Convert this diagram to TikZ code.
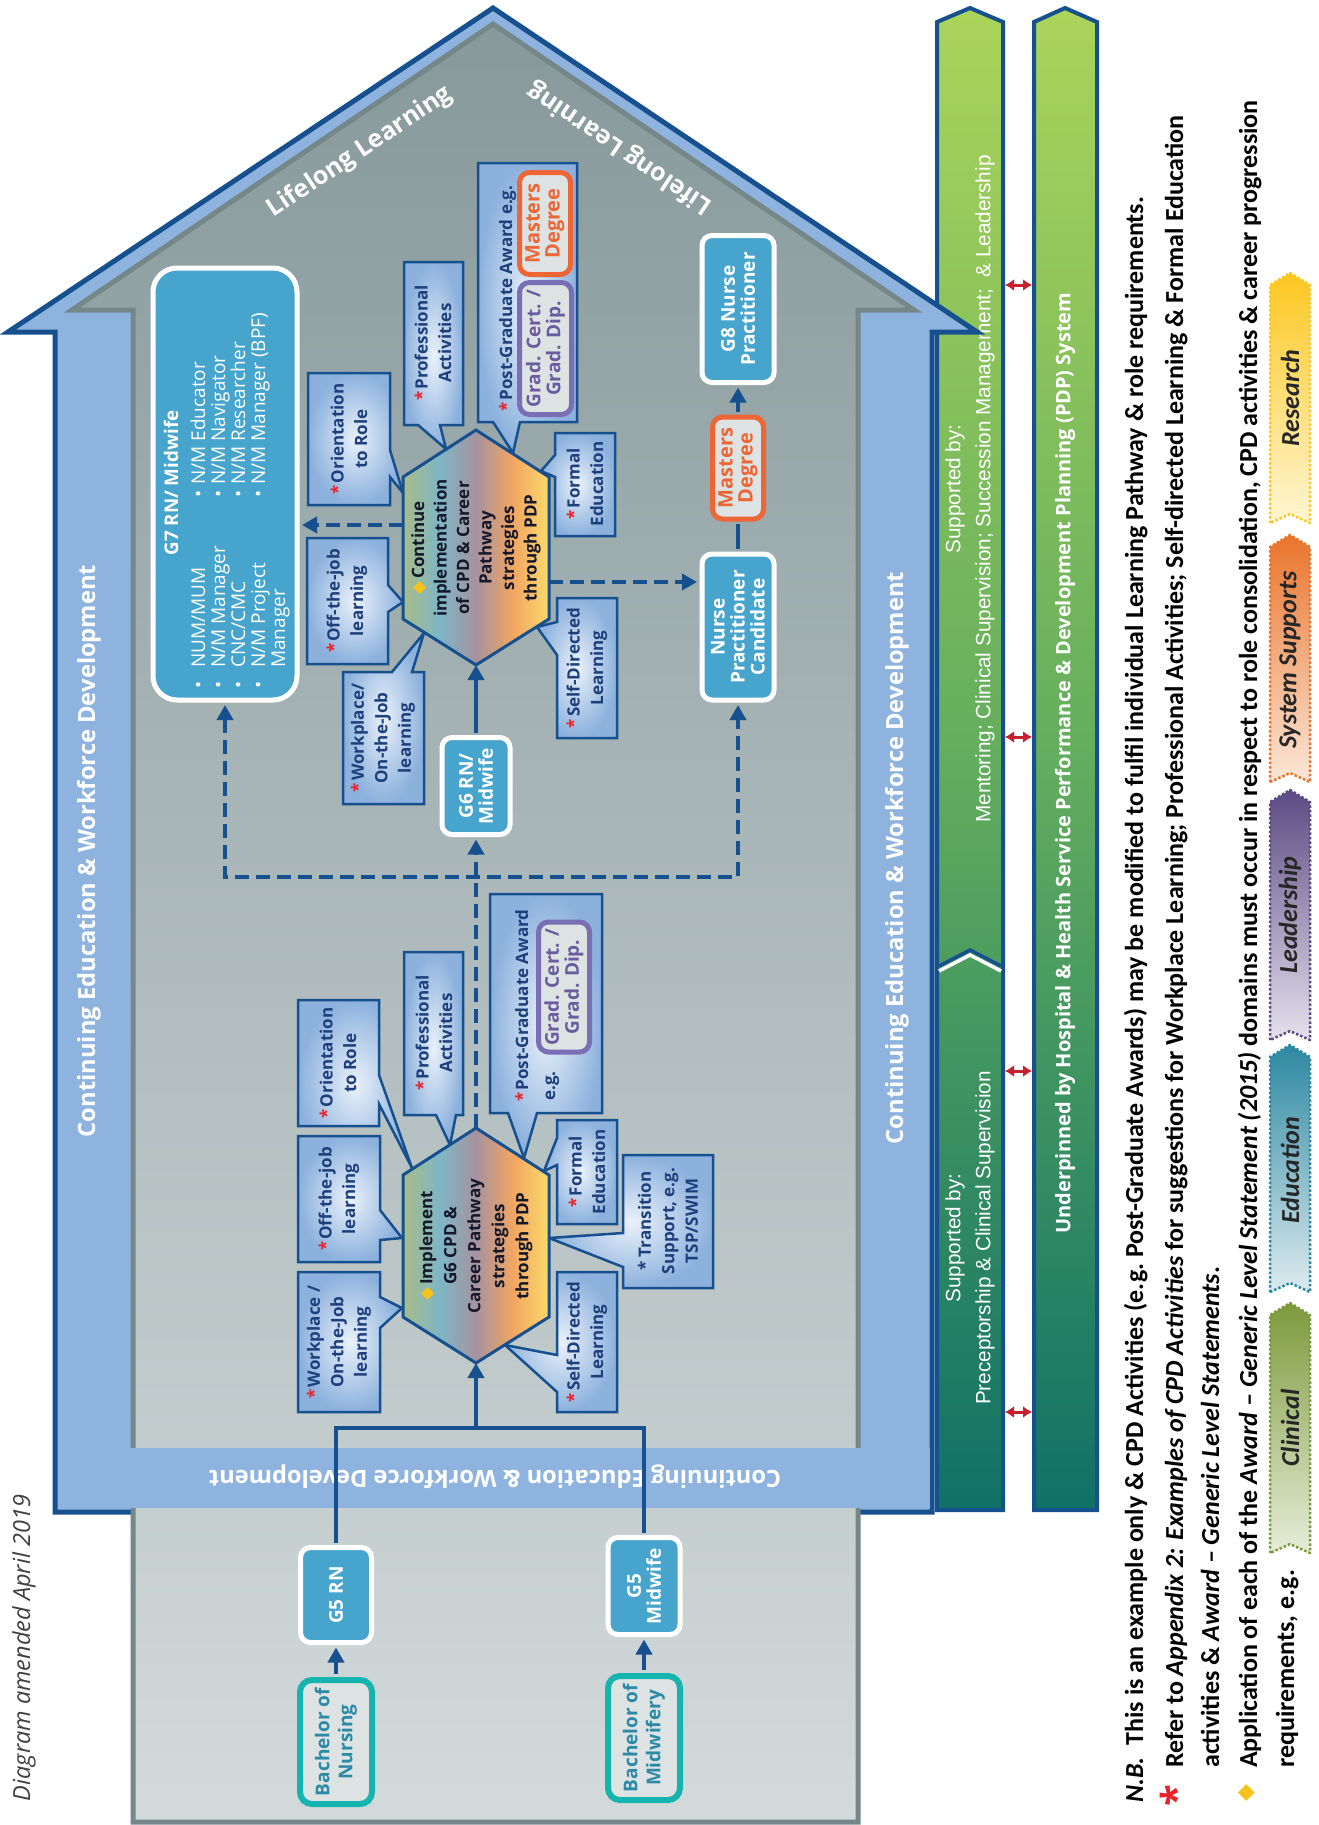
\documentclass[tikz,border=0pt]{standalone}
\usepackage{fontspec}
\setmainfont{Open Sans}
\newfontfamily\arialf{Liberation Sans}
\newfontfamily\notef{Carlito}
\newfontfamily\symf{DejaVu Sans}
\usetikzlibrary{arrows.meta}

\definecolor{dblue}{HTML}{17508F}
\definecolor{hblue}{HTML}{8EB3DE}
\definecolor{nblue}{HTML}{47A5CD}
\definecolor{slate}{HTML}{768789}
\definecolor{gtop}{HTML}{87999B}
\definecolor{gbot}{HTML}{D3DADB}
\definecolor{cin}{HTML}{EAF1FA}
\definecolor{cout}{HTML}{8CB1DD}
\definecolor{ctext}{HTML}{1D3F7C}
\definecolor{cstar}{HTML}{E8232B}
\definecolor{cdiam}{HTML}{F8C318}
\definecolor{bteal}{HTML}{16B4AE}
\definecolor{tteal}{HTML}{2B8BA7}
\definecolor{bpurp}{HTML}{7A6FB4}
\definecolor{tpurp}{HTML}{6B5BA0}
\definecolor{borng}{HTML}{EE6536}
\definecolor{lgrey}{HTML}{DDE2E2}
\definecolor{hextxt}{HTML}{15172A}
\definecolor{grtop}{HTML}{ABD45A}
\definecolor{grmid}{HTML}{63AD5E}
\definecolor{grbot}{HTML}{0F7166}
\definecolor{rarrow}{HTML}{C81F2E}
\definecolor{hxa}{HTML}{A8BC88}
\definecolor{hxb}{HTML}{7EB6C6}
\definecolor{hxc}{HTML}{A6929F}
\definecolor{hxd}{HTML}{F2A562}
\definecolor{hxe}{HTML}{FCDA6A}
\definecolor{clinD}{HTML}{7C9A3C}\definecolor{clinL}{HTML}{E6EDD8}
\definecolor{educD}{HTML}{2D88A1}\definecolor{educL}{HTML}{DDEBEF}
\definecolor{leadD}{HTML}{5C4B83}\definecolor{leadL}{HTML}{E5E1ED}
\definecolor{sysD}{HTML}{E9742B}\definecolor{sysL}{HTML}{FCE7D8}
\definecolor{resD}{HTML}{FCC720}\definecolor{resL}{HTML}{FEF6D3}

\pgfdeclarehorizontalshading{hexshade}{100bp}{color(0bp)=(hxa); color(25bp)=(hxa); color(37.5bp)=(hxb); color(50bp)=(hxc); color(62.5bp)=(hxd); color(75bp)=(hxe); color(100bp)=(hxe)}

\newcommand\setfs[2]{\fontsize{#1}{#2}\selectfont}
\newcommand\redstar{\textcolor{cstar}{*}\hspace{2pt}}
\newcommand\ydiam{{\symf\textcolor{cdiam}{\char"25C6}}\hspace{3pt}}

\tikzset{
  garrow/.style={draw=dblue, line width=4pt, line join=miter, top color=grtop, bottom color=grbot, middle color=grmid},
  houseframe/.style={fill=hblue, draw=dblue, line width=5pt, line join=miter},
  houseinner/.style={draw=slate, line width=5pt, line join=miter, top color=gtop, bottom color=gbot},
  walltext/.style={text=white, inner sep=0pt, font=\bfseries\setfs{23.7}{28}},
  bluebox/.style={rotate=90, draw=white, line width=5pt, fill=nblue, rounded corners=10pt, text=white, align=center, inner sep=0pt, font=\bfseries\setfs{19}{20}},
  bachbox/.style={rotate=90, draw=bteal, line width=6pt, fill=lgrey, rounded corners=12pt, text=tteal, align=center, inner sep=0pt, font=\bfseries\setfs{19}{23}},
  orgbox/.style={rotate=90, draw=borng, line width=5pt, fill=lgrey, rounded corners=10pt, text=borng, align=center, inner sep=0pt, font=\bfseries\setfs{20}{20}},
  purpbox/.style={rotate=90, draw=bpurp, line width=5pt, fill=lgrey, rounded corners=10pt, text=tpurp, align=center, inner sep=0pt, font=\bfseries\setfs{19}{20}},
  callbox/.style={draw=dblue, line width=2.5pt, line join=miter, inner color=cin, outer color=cout},
  calltext/.style={rotate=90, align=center, inner sep=0pt, text=ctext, font=\bfseries\setfs{17}{23.5}},
  hexfill/.style={draw=dblue, line width=3pt, line join=miter, shade, shading=hexshade, shading angle=0},
  hextext/.style={rotate=90, align=center, inner sep=0pt, text=hextxt, font=\bfseries\setfs{17}{24}},
  g7item/.style={rotate=90, anchor=base west, inner sep=0pt, text=white, font=\setfs{19}{20}},
  conn/.style={draw=dblue, line width=4pt},
  dconn/.style={draw=dblue, line width=4.5pt, dash pattern=on 14pt off 7pt},
  headtip/.style={-{Triangle[length=15pt,width=16pt]}},
  redarr/.style={draw=rarrow, line width=3pt, {Latex[length=9pt,width=12pt]}-{Latex[length=9pt,width=12pt]}},
  supptext/.style={rotate=90, align=center, inner sep=0pt, text=white, font=\arialf\setfs{20.7}{30}},
  notetext/.style={rotate=90, anchor=base west, inner sep=0pt, text=black, font=\notef\bfseries\setfs{26}{30}},
  legarrow/.style={line width=2.5pt, dotted, line join=round},
  legtext/.style={rotate=90, inner sep=0pt, text=black!85, font=\notef\bfseries\itshape\setfs{26}{28}}
}

\begin{document}
\begin{tikzpicture}[x=1pt, y=-1pt]
\useasboundingbox (0,0) rectangle (1319,1825);
\fill[white] (0,0) rectangle (1319,1825);

% ---- support arrows on the right ----
\path[garrow] (937,1510) -- (937,22) -- (970,8) -- (1003,22) -- (1003,1510) -- cycle;
\path[garrow] (1034,1510) -- (1034,22) -- (1065,8) -- (1097,22) -- (1097,1510) -- cycle;
\draw[dblue, line width=3.5pt] (939,966) -- (970,950) -- (1001,966);
\draw[white, line width=3.5pt] (939,971) -- (970,955) -- (1001,971);

\node[supptext] (supA) at (970,489) {Supported by:\\Mentoring; Clinical Supervision; Succession Management;\ \ \& Leadership};
\node[supptext] (supB) at (970,1238) {Supported by:\\Preceptorship \& Clinical Supervision};
\node[rotate=90, inner sep=0pt, text=white, font=\bfseries\setfs{20}{24}] (pdp) at (1065,763) {Underpinned by Hospital \& Health Service Performance \& Development Planning (PDP) System};

% ---- house ----
\path[houseframe] (55,1512) -- (55,332) -- (8,332) -- (493,8) -- (977,332) -- (932,332) -- (932,1512) -- cycle;
\path[houseinner] (72,310) -- (493,24) -- (914,310) -- (858,310) -- (858,1822) -- (133,1822) -- (133,310) -- cycle;
\fill[hblue] (58,1448) rectangle (930,1508);

\node[walltext, rotate=90] (wallL) at (89,851) {Continuing Education \& Workforce Development};
\node[walltext, rotate=90] (wallR) at (897,858) {Continuing Education \& Workforce Development};
\node[walltext, rotate=180] (floor) at (495,1477) {Continuing Education \& Workforce Development};
\node[walltext, rotate=33.7, font=\bfseries\setfs{25}{30}] (roofL) at (360,152) {Lifelong Learning};
\node[walltext, rotate=146.2, font=\bfseries\setfs{25}{30}] (roofR) at (620,148) {Lifelong Learning};

\node[rotate=90, inner sep=0pt, text=black!75, font=\itshape\setfs{23.5}{26}] (amend) at (24,1648) {Diagram amended April 2019};

% ---- callouts around the G6 hexagon ----
\path[callbox] (298,1272) -- (380,1272) -- (380,1297) -- (402,1308) -- (380,1328) -- (380,1412) -- (298,1412) -- cycle;
\node[calltext] (c1) at (339,1342) {\redstar Workplace /\\On-the-Job\\learning};
\path[callbox] (298,1136) -- (380,1136) -- (380,1210) -- (402,1238) -- (380,1240) -- (380,1262) -- (298,1262) -- cycle;
\node[calltext] (c2) at (339,1199) {\redstar Off-the-job\\learning};
\path[callbox] (298,1000) -- (379,1000) -- (379,1075) -- (412,1168) -- (379,1104) -- (379,1126) -- (298,1126) -- cycle;
\node[calltext] (c3) at (338,1063) {\redstar Orientation\\to Role};
\path[callbox] (404,952) -- (463,952) -- (463,1115) -- (456,1115) -- (450,1145) -- (436,1115) -- (404,1115) -- cycle;
\node[calltext] (c4) at (434,1033) {\redstar Professional\\Activities};
\path[callbox] (490,894) -- (602,894) -- (602,1113) -- (537,1113) -- (524,1158) -- (508,1113) -- (490,1113) -- cycle;
\node[calltext, anchor=base west] (c5t) at (528,1102) {\redstar Post-Graduate Award};
\node[calltext, anchor=base west] (c5e) at (555,1101) {e.g.};
\node[purpbox, minimum width=130pt, minimum height=51pt] (c5g) at (564,987) {Grad. Cert. /\\Grad. Dip.};
\path[callbox] (557,1120) -- (617,1120) -- (617,1224) -- (557,1224) -- (557,1165) -- (544,1171) -- (557,1138) -- cycle;
\node[calltext] (c6) at (587,1172) {\redstar Formal\\Education};
\path[callbox] (623,1155) -- (713,1155) -- (713,1288) -- (623,1288) -- (623,1267) -- (549,1238) -- (623,1233) -- cycle;
\node[calltext] (c7) at (668,1221) {* Transition\\Support, e.g.\\TSP/SWIM};
\path[callbox] (557,1272) -- (617,1272) -- (617,1412) -- (557,1412) -- (557,1392) -- (505,1345) -- (557,1355) -- cycle;
\node[calltext] (c8) at (587,1342) {\redstar Self-Directed\\Learning};

% ---- callouts around the continuing hexagon ----
\path[callbox] (308,373) -- (390,373) -- (390,450) -- (403,493) -- (390,477) -- (390,505) -- (308,505) -- cycle;
\node[calltext] (d1) at (349,439) {\redstar Orientation\\to Role};
\path[callbox] (307,538) -- (388,538) -- (388,585) -- (403,602) -- (388,612) -- (388,664) -- (307,664) -- cycle;
\node[calltext] (d2) at (347,601) {\redstar Off-the-job\\learning};
\path[callbox] (343,672) -- (392,672) -- (424,633) -- (412,672) -- (424,672) -- (424,804) -- (343,804) -- cycle;
\node[calltext] (d3) at (383,738) {\redstar Workplace/\\On-the-Job\\learning};
\path[callbox] (404,262) -- (463,262) -- (463,425) -- (440,425) -- (446,449) -- (418,425) -- (404,425) -- cycle;
\node[calltext] (d4) at (433,343) {\redstar Professional\\Activities};
\path[callbox] (478,163) -- (577,163) -- (577,422) -- (520,422) -- (513,453) -- (493,422) -- (478,422) -- cycle;
\node[calltext, anchor=base west] (d5t) at (512,412) {\redstar Post-Graduate Award e.g.};
\node[purpbox, minimum width=132pt, minimum height=52pt] (d5g) at (545.5,348.5) {Grad. Cert. /\\Grad. Dip.};
\node[orgbox, minimum width=102pt, minimum height=51pt] (d5m) at (545,223.5) {Masters\\Degree};
\path[callbox] (555,433) -- (615,433) -- (615,536) -- (555,536) -- (555,477) -- (541,471) -- (555,455) -- cycle;
\node[calltext] (d6) at (585,484) {\redstar Formal\\Education};
\path[callbox] (557,598) -- (617,598) -- (617,738) -- (557,738) -- (557,655) -- (537,627) -- (557,622) -- cycle;
\node[calltext] (d7) at (587,668) {\redstar Self-Directed\\Learning};

% ---- hexagons ----
\path[hexfill] (476,1128) -- (549,1175) -- (549,1317) -- (476,1363) -- (403,1317) -- (403,1175) -- cycle;
\node[hextext] (hx1) at (476,1246) {\ydiam Implement\\G6 CPD \&\\Career Pathway\\strategies\\through PDP};
\coordinate (hx1top) at (476,1128);
\coordinate (hx1bot) at (476,1363);

\path[hexfill] (476,430) -- (549,477) -- (549,619) -- (476,665) -- (403,619) -- (403,477) -- cycle;
\node[hextext, font=\bfseries\setfs{17}{22.5}] (hx2) at (476,548) {\ydiam Continue\\implementation\\of CPD \& Career\\Pathway\\strategies\\through PDP};
\coordinate (hx2top) at (476,430);
\coordinate (hx2bot) at (476,665);
\coordinate (hx2l) at (403,525);
\coordinate (hx2r) at (549,582);

% ---- role boxes ----
\node[bachbox, minimum width=124pt, minimum height=72pt] (bnur) at (336,1742) {Bachelor of\\Nursing};
\node[bluebox, minimum width=95pt, minimum height=71pt] (g5rn) at (336,1595) {G5 RN};
\node[bachbox, minimum width=124pt, minimum height=72pt] (bmid) at (644,1738) {Bachelor of\\Midwifery};
\node[bluebox, minimum width=97pt, minimum height=72pt] (g5mw) at (644,1586) {G5\\Midwife};
\node[bluebox, minimum width=97pt, minimum height=68pt] (g6) at (476,786) {G6 RN/\\Midwife};
\node[bluebox, minimum width=432pt, minimum height=144pt, rounded corners=24pt] (g7) at (225,484) {};
\node[bluebox, minimum width=146pt, minimum height=72pt] (npc) at (738,627) {Nurse\\Practitioner\\Candidate};
\node[orgbox, minimum width=102pt, minimum height=51pt] (mast2) at (738,468) {Masters\\Degree};
\node[bluebox, minimum width=147pt, minimum height=72pt] (g8) at (738,309) {G8 Nurse\\Practitioner};

% G7 contents
\node[rotate=90, anchor=base, inner sep=0pt, text=white, font=\bfseries\setfs{18.8}{20}] (g7t) at (178,483) {G7 RN/ Midwife};
\node[g7item] (g7a) at (205,689) {\makebox[21pt][l]{•}NUM/MUM};
\node[g7item] (g7b) at (225,689) {\makebox[21pt][l]{•}N/M Manager};
\node[g7item] (g7c) at (245,689) {\makebox[21pt][l]{•}CNC/CMC};
\node[g7item] (g7d) at (265,689) {\makebox[21pt][l]{•}N/M Project};
\node[g7item] (g7e) at (285,668) {Manager};
\node[g7item] (g7f) at (205,498) {\makebox[13pt][l]{•}N/M Educator};
\node[g7item] (g7g) at (225,498) {\makebox[13pt][l]{•}N/M Navigator};
\node[g7item] (g7h) at (245,498) {\makebox[13pt][l]{•}N/M Researcher};
\node[g7item] (g7i) at (265,498) {\makebox[13pt][l]{•}N/M Manager (BPF)};

% ---- connectors ----
\coordinate (jn) at (476,1428);
\coordinate (dl) at (225,877);
\coordinate (dr) at (738,877);
\draw[conn, headtip, shorten <=3pt, shorten >=2.5pt] (bnur) -- (g5rn);
\draw[conn, headtip, shorten <=3pt, shorten >=2.5pt] (bmid) -- (g5mw);
\draw[conn, shorten <=2.5pt] (g5rn) |- (jn);
\draw[conn, shorten <=2.5pt] (g5mw) |- (jn);
\draw[conn, headtip] (jn) -- (hx1bot);
\draw[dconn, headtip, shorten >=2.5pt] (hx1top) -- (g6);
\draw[dconn, {Triangle[length=15pt,width=16pt]}-{Triangle[length=15pt,width=16pt]}, shorten <=2.5pt, shorten >=2.5pt] (g7) -- (dl) -- (dr) -- (npc);
\draw[dconn, headtip, shorten >=2.5pt] (hx2l) -- (hx2l -| g7.south);
\draw[dconn, headtip, shorten >=2.5pt] (hx2r) -- (hx2r -| npc.north);
\draw[conn, headtip, shorten <=2.5pt] (g6) -- (hx2bot);
\draw[conn, shorten <=2.5pt, shorten >=2.5pt] (npc) -- (mast2);
\draw[conn, headtip, shorten <=2.5pt, shorten >=2.5pt] (mast2) -- (g8);

% ---- links between the two support arrows ----
\coordinate (r1a) at (1005,285);  \coordinate (r1b) at (1032,285);
\coordinate (r2a) at (1005,737);  \coordinate (r2b) at (1032,737);
\coordinate (r3a) at (1005,1071); \coordinate (r3b) at (1032,1071);
\coordinate (r4a) at (1005,1412); \coordinate (r4b) at (1032,1412);
\draw[redarr] (r1a) -- (r1b);
\draw[redarr] (r2a) -- (r2b);
\draw[redarr] (r3a) -- (r3b);
\draw[redarr] (r4a) -- (r4b);

% ---- notes ----
\node[notetext] (n1) at (1143,1803) {\textit{N.B.}\hspace{12pt}This is an example only \& CPD Activities (e.g.\ Post-Graduate Awards) may be modified to fulfil individual Learning Pathway \& role requirements.};
\node[rotate=90, inner sep=0pt, text=cstar, font=\bfseries\setfs{40}{40}] (nstar) at (1175,1796) {*};
\node[notetext] (n2) at (1183,1768) {Refer to \textit{Appendix 2: Examples of CPD Activities} for suggestions for Workplace Learning; Professional Activities; Self-directed Learning \& Formal Education};
\node[notetext] (n3) at (1219,1768) {activities \& \textit{Award – Generic Level Statements}.};
\node[rotate=90, inner sep=0pt, text=cdiam, font=\symf\setfs{22}{22}] (ndiam) at (1247,1793) {\char"25C6};
\node[notetext] (n4) at (1257,1768) {Application of each of the \textit{Award – Generic Level Statement (2015)} domains must occur in respect to role consolidation, CPD activities \& career progression};
\node[notetext] (n5) at (1294,1768) {requirements, e.g.};

% ---- domain legend ----
\path[legarrow, draw=clinD, top color=clinD, bottom color=clinL] (1270,1553) -- (1270,1315) -- (1290,1303) -- (1310,1315) -- (1310,1553) -- (1290,1544) -- cycle;
\node[legtext] (lclin) at (1290,1428) {Clinical};
\path[legarrow, draw=educD, top color=educD, bottom color=educL] (1270,1292) -- (1270,1057) -- (1290,1045) -- (1310,1057) -- (1310,1292) -- (1290,1283) -- cycle;
\node[legtext] (ledu) at (1290,1170) {Education};
\path[legarrow, draw=leadD, top color=leadD, bottom color=leadL] (1270,1040) -- (1270,802) -- (1290,790) -- (1310,802) -- (1310,1040) -- (1290,1031) -- cycle;
\node[legtext] (llead) at (1290,915) {Leadership};
\path[legarrow, draw=sysD, top color=sysD, bottom color=sysL] (1270,782) -- (1270,547) -- (1290,535) -- (1310,547) -- (1310,782) -- (1290,773) -- cycle;
\node[legtext] (lsys) at (1290,660) {System Supports};
\path[legarrow, draw=resD, top color=resD, bottom color=resL] (1270,523) -- (1270,285) -- (1290,273) -- (1310,285) -- (1310,523) -- (1290,514) -- cycle;
\node[legtext] (lres) at (1290,398) {Research};
\end{tikzpicture}
\end{document}
